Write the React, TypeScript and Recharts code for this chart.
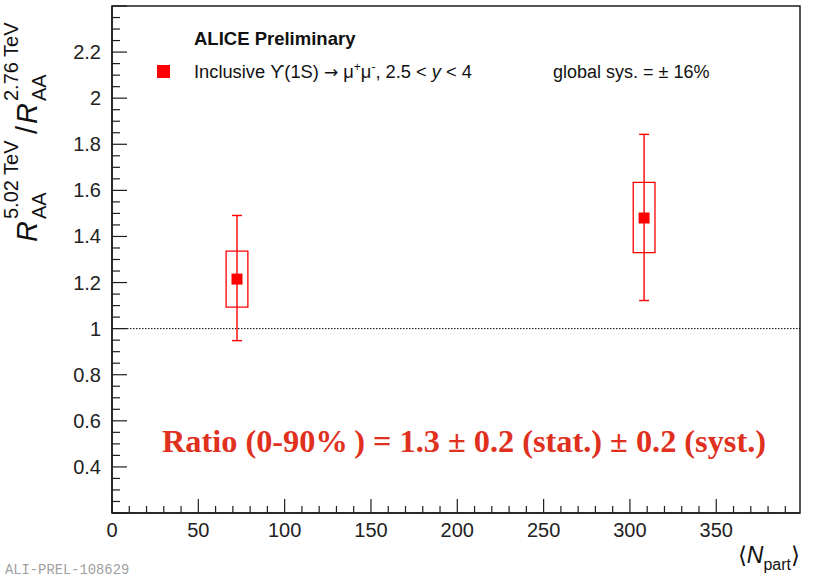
import React from 'react';
import {
  ComposedChart,
  Scatter,
  XAxis,
  YAxis,
  ErrorBar,
  ReferenceLine,
  ReferenceArea,
} from 'recharts';

// ---- data ----
const nPart = [72.4, 308.2];
const ratio = [1.215, 1.48];
const statLow = [0.267, 0.358];
const statHigh = [0.276, 0.363];
const sysLow = [1.093, 1.33];
const sysHigh = [1.336, 1.635];
const SYS_HALF = 6.3;

const xTickLabels = [0, 50, 100, 150, 200, 250, 300, 350];
const yTickLabels = [0.4, 0.6, 0.8, 1, 1.2, 1.4, 1.6, 1.8, 2, 2.2];

const X_MAX = 398.5;
const Y_MIN = 0.2;
const Y_MAX = 2.4;

const xTicks: number[] = [];
for (let i = 0; i <= 39; i++) xTicks.push(i * 10);
const yTicks: number[] = [];
for (let i = 4; i <= 48; i++) yTicks.push(Math.round(i * 5) / 100);

const data = nPart.map((n, i) => ({
  n,
  ratio: ratio[i],
  err: [statLow[i], statHigh[i]],
  sysLow: sysLow[i],
  sysHigh: sysHigh[i],
}));

const FONT = "'Liberation Sans', Arial, Helvetica, sans-serif";
const RED = '#ff0000';
const AX = '#1e1e1e';

const XTick = (props: any) => {
  const { x, y, payload } = props;
  const v = payload.value;
  const major = xTickLabels.some((t) => Math.abs(t - v) < 1e-6);
  return (
    <g>
      <line x1={x} x2={x} y1={y} y2={y - (major ? 14 : 7)} stroke={AX} strokeWidth={1.2} />
      {major && (
        <text x={x} y={y + 24} textAnchor="middle" fontSize={20} fill="#222" fontFamily={FONT}>
          {v}
        </text>
      )}
    </g>
  );
};

const YTick = (props: any) => {
  const { x, y, payload } = props;
  const v = payload.value;
  const major = Math.abs(v * 5 - Math.round(v * 5)) < 1e-6;
  const label = yTickLabels.some((t) => Math.abs(t - v) < 1e-6);
  return (
    <g>
      <line x1={x} x2={x + (major ? 15 : 8)} y1={y} y2={y} stroke={AX} strokeWidth={1.2} />
      {label && (
        <text x={x - 11} y={y + 7} textAnchor="end" fontSize={20} fill="#222" fontFamily={FONT}>
          {String(v)}
        </text>
      )}
    </g>
  );
};

const Square = (props: any) => {
  const { cx, cy } = props;
  return <rect x={cx - 5.5} y={cy - 5.5} width={11} height={11} fill={RED} />;
};

export default function App() {
  return (
    <div style={{ position: 'absolute', left: 0, top: 0, width: 814, height: 578, background: '#fff' }}>
      <ComposedChart
        width={814}
        height={578}
        data={data}
        margin={{ top: 6, right: 14, bottom: 0, left: 0 }}
      >
        <XAxis
          dataKey="n"
          type="number"
          domain={[0, X_MAX]}
          ticks={xTicks}
          interval={0}
          tickSize={0}
          tickMargin={0}
          tickLine={false}
          tick={<XTick />}
          axisLine={{ stroke: AX, strokeWidth: 1.5 }}
          height={65}
          allowDataOverflow
        />
        <YAxis
          dataKey="ratio"
          type="number"
          domain={[Y_MIN, Y_MAX]}
          ticks={yTicks}
          interval={0}
          tickSize={0}
          tickMargin={0}
          tickLine={false}
          tick={<YTick />}
          axisLine={{ stroke: AX, strokeWidth: 1.5 }}
          width={112}
          allowDataOverflow
        />
        <ReferenceArea
          x1={0}
          x2={X_MAX}
          y1={Y_MIN}
          y2={Y_MAX}
          fill="none"
          stroke={AX}
          strokeWidth={1.5}
          fillOpacity={0}
        />
        <ReferenceLine y={1} stroke="#000" strokeWidth={1} strokeDasharray="1.5 1.5" />
        {data.map((d, i) => (
          <ReferenceArea
            key={i}
            x1={d.n - SYS_HALF}
            x2={d.n + SYS_HALF}
            y1={d.sysLow}
            y2={d.sysHigh}
            fill="none"
            fillOpacity={0}
            stroke={RED}
            strokeWidth={1.3}
          />
        ))}
        <Scatter dataKey="ratio" fill={RED} shape={<Square />} isAnimationActive={false}>
          <ErrorBar
            dataKey="err"
            direction="y"
            width={5}
            stroke={RED}
            strokeWidth={1.4}
            isAnimationActive={false}
          />
        </Scatter>
      </ComposedChart>
      <svg
        width={814}
        height={578}
        style={{ position: 'absolute', left: 0, top: 0, pointerEvents: 'none' }}
      >
        {/* legend */}
        <text x={194} y={45} fontSize={18.5} fontWeight="bold" fill="#111" fontFamily={FONT}>
          ALICE Preliminary
        </text>
        <rect x={157} y={65} width={13} height={13} fill={RED} />
        <text x={194} y={78} fontSize={18.3} fill="#111" fontFamily={FONT}>
          Inclusive ϒ(1S) <tspan fontFamily="'DejaVu Sans', sans-serif" fontSize={17}>→</tspan> μ
          <tspan dy={-7} fontSize={12}>+</tspan>
          <tspan dy={7}>μ</tspan>
          <tspan dy={-7} fontSize={12}>-</tspan>
          <tspan dy={7}>, 2.5 &lt; </tspan>
          <tspan fontStyle="italic">y</tspan>
          <tspan> &lt; 4</tspan>
        </text>
        <text x={553} y={78} fontSize={18} fill="#111" fontFamily={FONT}>
          global sys. = ± 16%
        </text>
        {/* ratio text */}
        <text
          x={162}
          y={452}
          fontSize={32}
          fontWeight="bold"
          fill="#e0301e"
          fontFamily="'Liberation Serif', 'Times New Roman', serif"
          textLength={604}
          lengthAdjust="spacingAndGlyphs"
        >
          Ratio (0-90%{'\u2009'}) = 1.3 ± 0.2 (stat.) ± 0.2 (syst.)
        </text>
        {/* x title */}
        <text x={800} y={563} textAnchor="end" fontSize={23} fill="#111" fontFamily={FONT}>
          ⟨<tspan fontStyle="italic">N</tspan>
          <tspan dy={7} fontSize={16}>part</tspan>
          <tspan dy={-7}>⟩</tspan>
        </text>
        {/* y title */}
        <g transform="translate(37,242) rotate(-90)" fontFamily={FONT} fill="#111">
          <text x={0} y={0} fontSize={29} fontStyle="italic">R</text>
          <text x={23} y={-19} fontSize={20}>5.02 TeV</text>
          <text x={23} y={9} fontSize={20}>AA</text>
          <text x={108} y={0} fontSize={29}>/</text>
          <text x={118} y={0} fontSize={29} fontStyle="italic">R</text>
          <text x={141} y={-19} fontSize={20}>2.76 TeV</text>
          <text x={141} y={9} fontSize={20}>AA</text>
        </g>
        {/* watermark */}
        <text x={5} y={574} fontSize={13.8} fill="#a0a0a0" fontFamily="'Liberation Mono', 'Courier New', monospace">
          ALI-PREL-108629
        </text>
      </svg>
    </div>
  );
}
